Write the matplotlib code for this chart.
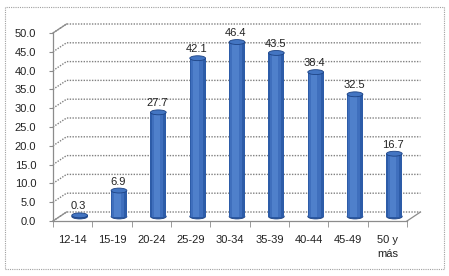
import matplotlib.pyplot as plt
from matplotlib.patches import Ellipse, Rectangle
from matplotlib.transforms import offset_copy, IdentityTransform

# datos
grupos = ["12-14", "15-19", "20-24", "25-29", "30-34", "35-39", "40-44", "45-49", "50 y\nmás"]
valores = [0.3, 6.9, 27.7, 42.1, 46.4, 43.5, 38.4, 32.5, 16.7]
yticks = [0, 5, 10, 15, 20, 25, 30, 35, 40, 45, 50]

plt.rcParams['font.family'] = ['Liberation Sans', 'DejaVu Sans']
fig = plt.figure(figsize=(4.49, 2.76), dpi=100)

# marco exterior punteado
fig.patches.append(Rectangle((5, 7), 439, 262, transform=IdentityTransform(), fill=False,
                             edgecolor='#a0a0a0', linestyle=(0, (1, 1)), linewidth=0.8))

ax = fig.add_axes([53 / 449, 55 / 276, 354 / 449, 188 / 276])
ax.set_xlim(-0.5, len(grupos) - 0.5)
ax.set_ylim(0, 50)
ax.patch.set_visible(False)
for s in ['top', 'right']:
    ax.spines[s].set_visible(False)
for s in ['left', 'bottom']:
    ax.spines[s].set_color('#8c8c8c')
    ax.spines[s].set_linewidth(0.9)

# ejes: ticks
ax.set_yticks(yticks)
ax.set_yticklabels(["%.1f" % v for v in yticks], fontsize=8, color='#222222')
ax.tick_params(axis='y', length=3, pad=9, color='#8c8c8c')
ax.set_xticks(range(len(grupos)))
ax.set_xticklabels(grupos, fontsize=8, color='#222222', va='top', linespacing=1.5)
ax.tick_params(axis='x', which='major', length=0, pad=10)
ax.set_xticks([i - 0.5 for i in range(len(grupos) + 1)], minor=True)
ax.tick_params(axis='x', which='minor', length=4, color='#8c8c8c')

# pared del fondo (efecto 3D)
dx, dy = 13.5, 9
x0 = ax.transData.transform((-0.5, 0))[0]
x1 = ax.transData.transform((len(grupos) - 0.5, 0))[0]
for v in yticks:
    y = ax.transData.transform((0, v))[1]
    ax.plot([x0, x0 + dx, x1 + dx], [y, y + dy, y + dy], transform=IdentityTransform(),
            color='#808080', linestyle=(0, (1, 1)), linewidth=1.0, clip_on=False, zorder=1)
ytop = ax.transData.transform((0, 50))[1]
y0 = ax.transData.transform((0, 0))[1]
ax.plot([x0, x0 + dx], [ytop, ytop + dy], transform=IdentityTransform(),
        color='#8c8c8c', linewidth=0.9, clip_on=False, zorder=1)
ax.plot([x0, x0 + dx], [y0, y0 + dy], transform=IdentityTransform(),
        color='#8c8c8c', linewidth=0.9, clip_on=False, zorder=1)
ax.plot([x1, x1 + dx], [y0, y0 + dy], transform=IdentityTransform(),
        color='#8c8c8c', linewidth=0.9, clip_on=False, zorder=1)

# cilindros
tb = offset_copy(ax.transData, fig=fig, x=7, y=4.5, units='dots')
ancho = 0.40
eh = 1.3
for i, v in enumerate(valores):
    ax.add_patch(Ellipse((i, 0), ancho, eh, transform=tb, facecolor='#2a58a2',
                         edgecolor='#1d4384', linewidth=0.6, zorder=3, clip_on=False))
    ax.bar(i, v, width=ancho, color='#2d5ca8', transform=tb, zorder=3, clip_on=False)
    ax.bar(i - 0.02, v, width=ancho * 0.75, color='#3f6fbd', transform=tb, zorder=3, clip_on=False)
    ax.bar(i - 0.04, v, width=ancho * 0.4, color='#4f80cb', transform=tb, zorder=3, clip_on=False)
    ax.add_patch(Ellipse((i, v), ancho, eh, transform=tb, facecolor='#4375c2',
                         edgecolor='#1d4384', linewidth=0.6, zorder=4, clip_on=False))
    ax.annotate("%.1f" % v, (i, v), xycoords=tb, xytext=(-1, 9), textcoords='offset pixels',
                ha='center', va='center', fontsize=8, color='#222222')

fig.savefig("out.png", dpi=100)
